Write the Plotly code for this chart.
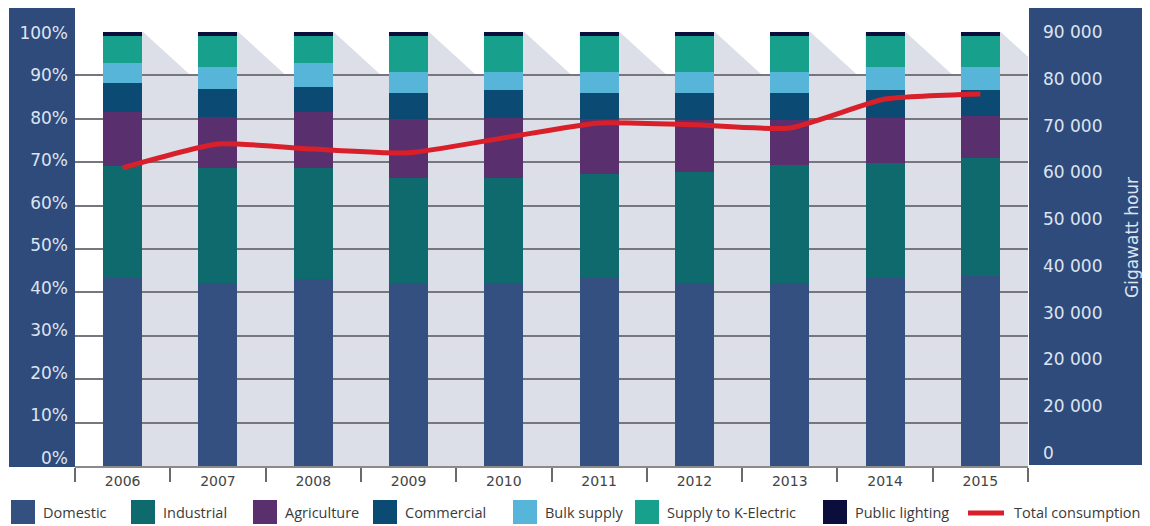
import plotly.graph_objects as go

years = ["2006", "2007", "2008", "2009", "2010", "2011", "2012", "2013", "2014", "2015"]

domestic = [43.3, 42.2, 43.1, 42.2, 42.2, 43.3, 42.2, 42.2, 43.3, 43.8]
industrial = [25.8, 26.5, 25.6, 24.2, 24.2, 24.0, 25.5, 27.2, 26.5, 27.2]
agriculture = [12.5, 11.7, 12.9, 13.6, 13.8, 12.7, 12.0, 10.3, 10.4, 9.6]
commercial = [6.6, 6.4, 5.7, 5.9, 6.4, 5.9, 6.2, 6.2, 6.4, 6.0]
bulk_supply = [4.7, 5.2, 5.6, 4.9, 4.2, 4.9, 4.9, 4.9, 5.4, 5.4]
k_electric = [6.2, 7.1, 6.2, 8.3, 8.3, 8.3, 8.3, 8.3, 7.1, 7.1]
public_lighting = [0.9, 0.9, 0.9, 0.9, 0.9, 0.9, 0.9, 0.9, 0.9, 0.9]

total_consumption = [61000, 66100, 65000, 64200, 67400, 70600, 70200, 69500, 75700, 76800]

pct_ticks = [0, 10, 20, 30, 40, 50, 60, 70, 80, 90, 100]
pct_labels = ["0%", "10%", "20%", "30%", "40%", "50%", "60%", "70%", "80%", "90%", "100%"]
gwh_ticks = [0, 10000, 20000, 30000, 40000, 50000, 60000, 70000, 80000, 90000]
gwh_labels = ["0", "20 000", "20 000", "30 000", "40 000", "50 000", "60 000", "70 000", "80 000", "90 000"]

series = [
    ("Domestic", domestic, "#345080"),
    ("Industrial", industrial, "#0e6a6c"),
    ("Agriculture", agriculture, "#5a2f6d"),
    ("Commercial", commercial, "#0a4a73"),
    ("Bulk supply", bulk_supply, "#56b5d9"),
    ("Supply to K-Electric", k_electric, "#17a08c"),
    ("Public lighting", public_lighting, "#0b0d3d"),
]
LINE_COLOR = "#d9202a"
PANEL = "#2f4b7c"
PANEL_TEXT = "#dde4f0"

OFF = 8  # page body margin in the browser
W, H = 1150 - OFF, 526 - OFF
ML, MT = 75 - OFF, 32 - OFF
MR = W - (1028 - OFF)
MB = H - (466 - OFF)
PW, PH = W - ML - MR, H - MT - MB


def px(x):
    return (x - OFF - ML) / PW


def py(y):
    return (MT + PH - (y - OFF)) / PH


BAR_W = 0.41

fig = go.Figure()
for name, vals, col in series:
    fig.add_trace(go.Bar(x=years, y=vals, name=name, marker=dict(color=col, line=dict(width=0)),
                         width=BAR_W, showlegend=False))

fig.add_trace(go.Scatter(x=years, y=total_consumption, name="Total consumption", yaxis="y2",
                         mode="lines", line=dict(color=LINE_COLOR, width=5, shape="spline", smoothing=0.5),
                         showlegend=False))
# invisible anchor trace for the left label axis
fig.add_trace(go.Scatter(x=[years[0], years[-1]], y=[pct_ticks[0], pct_ticks[-1]], yaxis="y3",
                         mode="markers", marker=dict(opacity=0), hoverinfo="skip", showlegend=False))

shapes = []
shapes.append(dict(type="rect", xref="paper", yref="paper", x0=px(9), x1=0, y0=py(467), y1=py(7),
                   fillcolor=PANEL, line=dict(width=0), layer="below"))
shapes.append(dict(type="rect", xref="paper", yref="paper", x0=px(1029), x1=px(1148), y0=py(465), y1=py(8),
                   fillcolor=PANEL, line=dict(width=0), layer="below"))

n = len(years)


def cx(k):
    return (k + 0.5) / n


shapes.append(dict(type="rect", xref="paper", yref="paper", x0=0, x1=cx(-BAR_W / 2), y0=0, y1=1,
                   fillcolor="white", line=dict(width=0), layer="below"))
for i in range(n - 1):
    a = i + 0.215
    b = i + 1 - BAR_W / 2
    path = f"M{cx(a)},1 L{cx(b)},1 L{cx(b)},0.90 L{cx(i + 0.715)},0.90 Z"
    shapes.append(dict(type="path", xref="paper", yref="paper", path=path,
                       fillcolor="white", line=dict(width=0), layer="below"))
a = n - 1 + 0.215
shapes.append(dict(type="path", xref="paper", yref="paper",
                   path=f"M{cx(a)},1 L1,1 L1,{(100 - 0.285 / 0.05) / 100} Z",
                   fillcolor="white", line=dict(width=0), layer="below"))

legend_items = [
    ("Domestic", "#345080", 11),
    ("Industrial", "#0e6a6c", 131),
    ("Agriculture", "#5a2f6d", 253),
    ("Commercial", "#0a4a73", 373),
    ("Bulk supply", "#56b5d9", 513),
    ("Supply to K-Electric", "#17a08c", 635),
    ("Public lighting", "#0b0d3d", 823),
]
annotations = []
for label, col, x0 in legend_items:
    shapes.append(dict(type="rect", xref="paper", yref="paper", x0=px(x0), x1=px(x0 + 24),
                       y0=py(524), y1=py(500), fillcolor=col, line=dict(width=0)))
    annotations.append(dict(text=label, xref="paper", yref="paper", x=px(x0 + 30), y=py(512),
                            xanchor="left", yanchor="middle", showarrow=False,
                            font=dict(family="Open Sans", size=14.5, color="#3a3a3a")))
shapes.append(dict(type="line", xref="paper", yref="paper", x0=px(968), x1=px(1004), y0=py(513), y1=py(513),
                   line=dict(color=LINE_COLOR, width=5)))
annotations.append(dict(text="Total consumption", xref="paper", yref="paper", x=px(1012), y=py(512),
                        xanchor="left", yanchor="middle", showarrow=False,
                        font=dict(family="Open Sans", size=14.5, color="#3a3a3a")))
annotations.append(dict(text="Gigawatt hour", xref="paper", yref="paper", x=px(1132), y=py(238),
                        xanchor="center", yanchor="middle", textangle=-90, showarrow=False,
                        font=dict(family="DejaVu Sans", size=17, color=PANEL_TEXT)))

# left labels sit on a slightly compressed scale: 0% at y=458, 100% at y=33
lab_lo = -(466 - 458) / 4.25
lab_hi = 100 + (33 - 32) / 4.25

fig.update_layout(
    width=W, height=H,
    margin=dict(l=ML, r=MR, t=MT, b=MB, pad=0),
    barmode="stack",
    paper_bgcolor="white",
    plot_bgcolor="#dcdfe7",
    shapes=shapes,
    annotations=annotations,
    showlegend=False,
    xaxis=dict(type="category", range=[-0.5, n - 0.5], tickson="boundaries", ticks="outside",
               ticklen=14, tickwidth=2, tickcolor="#6a6a6a", showgrid=False, showline=True,
               linecolor="#8a8a8a", linewidth=1.5, ticklabelstandoff=1,
               tickfont=dict(family="DejaVu Sans", size=14, color="#444444")),
    yaxis=dict(range=[0, 100], tickvals=pct_ticks, showticklabels=False, showgrid=True,
               gridcolor="#76767c", gridwidth=1.5, zeroline=False, ticks=""),
    yaxis3=dict(overlaying="y", side="left", range=[lab_lo, lab_hi], tickvals=pct_ticks, ticktext=pct_labels,
                showgrid=False, zeroline=False, ticks="", ticklabelstandoff=6,
                tickfont=dict(family="DejaVu Sans", size=17, color=PANEL_TEXT)),
    yaxis2=dict(overlaying="y", side="right", range=[-2800, 90050], tickvals=gwh_ticks, ticktext=gwh_labels,
                showgrid=False, zeroline=False, ticks="", ticklabelstandoff=14,
                tickfont=dict(family="DejaVu Sans", size=17, color=PANEL_TEXT)),
)

fig.write_html("out.html")
